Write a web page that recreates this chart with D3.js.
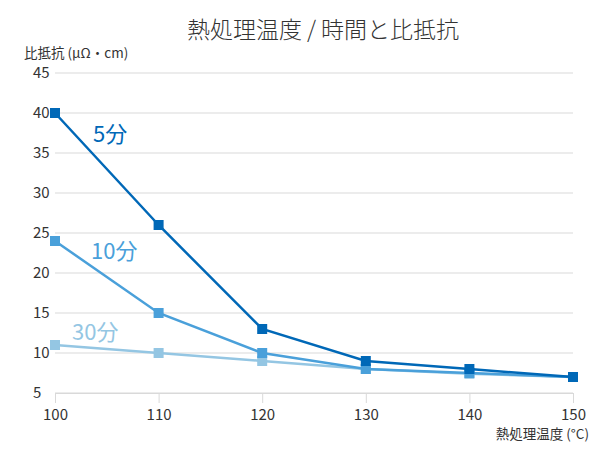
<!DOCTYPE html>
<html>
  <head>
    <meta charset="utf-8">
    <title>熱処理温度 / 時間と比抵抗</title>
    <script src="https://d3js.org/d3.v7.min.js"></script>
    <style>
      body { margin: 0; background: #fff; }
      text { font-family: "Noto Sans CJK JP", "Noto Sans", sans-serif; }
    </style>
  </head>
  <body>
    <div id="chart"></div>
    <script>
      // heat-treatment temperature (°C)
      var temps = [100, 110, 120, 130, 140, 150];
      var seriesNames = ["5分", "10分", "30分"];
      var s5 = [40, 26, 13, 9, 8, 7];
      var s10 = [24, 15, 10, 8, 7.5, 7];
      var s30 = [11, 10, 9, 8, 7.4, 7];
      var yTicks = [5, 10, 15, 20, 25, 30, 35, 40, 45];

      var colors = ["#0068b7", "#4aa0da", "#94c6e3"];
      var series = [s5, s10, s30];

      var width = 600, height = 450;
      var margin = { top: 73, right: 27, bottom: 57, left: 55 };

      var svg = d3.select("#chart")
                  .append("svg")
                  .attr("width", width)
                  .attr("height", height);

      var x = d3.scaleLinear()
                .domain([100, 150])
                .range([margin.left, width - margin.right]);
      var y = d3.scaleLinear()
                .domain([5, 45])
                .range([height - margin.bottom, margin.top]);

      // title
      svg.append("text")
         .attr("x", 323)
         .attr("y", 38)
         .attr("text-anchor", "middle")
         .style("font-size", "23px")
         .style("font-weight", "300")
         .style("fill", "#333")
         .text("熱処理温度 / 時間と比抵抗");

      // gridlines
      svg.append("g")
         .selectAll("line")
         .data(yTicks)
         .enter()
         .append("line")
         .attr("x1", x(100))
         .attr("x2", x(150))
         .attr("y1", function(d) { return y(d); })
         .attr("y2", function(d) { return y(d); })
         .attr("stroke", "#d9d9d9")
         .attr("stroke-width", 1);

      // y axis labels
      var yAxis = svg.append("g")
         .attr("transform", "translate(" + margin.left + ",0)")
         .call(d3.axisLeft(y).tickValues(yTicks).tickSize(0).tickPadding(0));
      yAxis.select(".domain").remove();
      yAxis.selectAll("text")
           .attr("x", -22)
           .attr("text-anchor", "start")
           .style("font-size", "15px")
           .style("font-family", "'Noto Sans CJK JP', sans-serif")
           .style("fill", "#333");

      // x axis
      var xAxis = svg.append("g")
         .attr("transform", "translate(0," + y(5) + ")")
         .call(d3.axisBottom(x).tickValues(temps).tickSize(10).tickPadding(6));
      xAxis.select(".domain").attr("stroke", "#d9d9d9");
      xAxis.selectAll(".tick line").attr("stroke", "#d9d9d9");
      xAxis.selectAll("text")
           .style("font-size", "15px")
           .style("font-family", "'Noto Sans CJK JP', sans-serif")
           .style("fill", "#333");

      // axis titles
      svg.append("text")
         .attr("x", 24)
         .attr("y", 58)
         .style("font-size", "13.5px")
         .style("fill", "#333")
         .text("比抵抗 (μΩ・cm)");

      svg.append("text")
         .attr("x", 589)
         .attr("y", 439)
         .attr("text-anchor", "end")
         .style("font-size", "13.5px")
         .style("fill", "#333")
         .text("熱処理温度 (°C)");

      var line = d3.line()
                   .x(function(d, i) { return x(temps[i]); })
                   .y(function(d) { return y(d); });

      // draw lighter series first so the dark one sits on top
      for (var k = series.length - 1; k >= 0; k--) {
        var g = svg.append("g");
        g.append("path")
         .datum(series[k])
         .attr("fill", "none")
         .attr("stroke", colors[k])
         .attr("stroke-width", 2.5)
         .attr("d", line);
        g.selectAll("rect")
         .data(series[k])
         .enter()
         .append("rect")
         .attr("x", function(d, i) { return x(temps[i]) - 5; })
         .attr("y", function(d) { return y(d) - 5; })
         .attr("width", 10)
         .attr("height", 10)
         .attr("fill", colors[k]);
      }

      // series labels
      var labelPos = [[93, 142], [91, 259], [72, 340]];
      seriesNames.forEach(function(n, i) {
        svg.append("text")
           .attr("x", labelPos[i][0])
           .attr("y", labelPos[i][1])
           .style("font-size", "22px")
           .style("font-weight", "normal")
           .style("fill", colors[i])
           .text(n);
      });
    </script>
  </body>
</html>
